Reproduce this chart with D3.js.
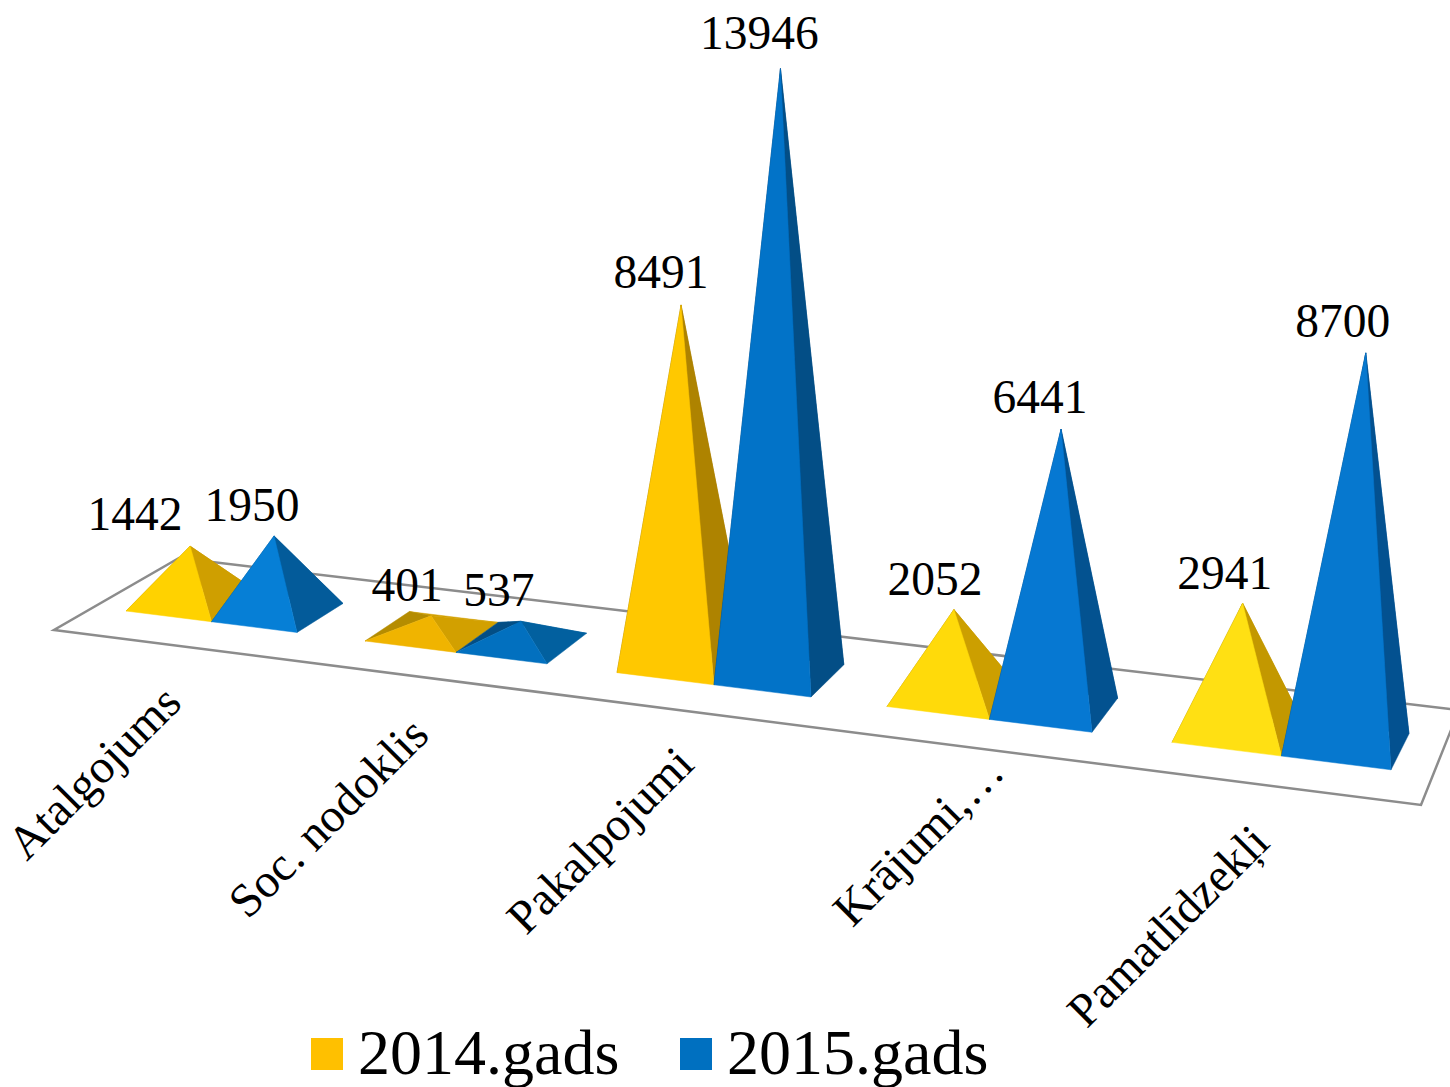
<!DOCTYPE html>
<html>
	<head>
		<meta charset="utf-8">
		<style>
			html, body { margin: 0; padding: 0; background: #fff; overflow: hidden; }
			text { font-family: "Liberation Serif", serif; fill: #000; }
		</style>
	</head>
	<body>
		<script src="https://cdnjs.cloudflare.com/ajax/libs/d3/7.8.5/d3.min.js"></script>
		<script>
			var categories = ["Atalgojums", "Soc. nodoklis", "Pakalpojumi", "Krājumi,…", "Pamatlīdzekļi"];
			var seriesNames = ["2014.gads", "2015.gads"];
			var values2014 = [1442, 401, 8491, 2052, 2941];
			var values2015 = [1950, 537, 13946, 6441, 8700];

			// each face is lit a little differently depending on where it stands
			var frontFill2014 = ["#ffd200", "#f0b400", "#ffc800", "#ffda0a", "#ffe013"];
			var sideFill2014 = ["#cf9f00", "#d2a000", "#ae8300", "#cc9f00", "#c39800"];
			var backFill2014 = ["#b58c00", "#b58c00", "#8f6c00", "#a88400", "#a07e00"];
			var frontFill2015 = ["#067fd6", "#0270bf", "#0273c8", "#0678d2", "#0678cf"];
			var sideFill2015 = ["#035b9a", "#02609f", "#034e86", "#035290", "#035190"];
			var backFill2015 = ["#034e85", "#034e85", "#023f6c", "#034578", "#034578"];
			var legendFill = ["#ffc000", "#0070c0"];

			var labelDx2014 = [-55, -24, -20, -19, -18];
			var labelDx2015 = [-22, -22, -21, -21, -23];
			var labelDy2014 = [-16, -15, -17, -15, -14];
			var labelDy2015 = [-15, -15, -20, -16, -16];
			var categoryDx = [-28, -25, -18, 17, -10];
			var categoryDy = [87, 88, 84, 53, 90];

			var width = 1450,
				height = 1087;

			var idx = d3.range(categories.length);

			// front edge of the floor, a pyramid base sits on it
			var catLeft = d3.scaleLinear().domain(idx).range([126, 365, 617, 887, 1172]);
			var barWidth = d3.scaleLinear().domain(idx).range([85.5, 91, 97, 102.5, 109.5]);
			var baseY = d3.scaleLinear().domain([126, 1391]).range([611, 769.8]);
			var depthX = d3.scaleLinear().domain([297, 1391]).range([46, 18]);
			var depthY = d3.scaleLinear().domain([297, 1391]).range([-29, -36]);

			// px per unit, grows to the right and with the height (perspective)
			var gainByX = d3.scaleLinear().domain([0, 1000]).range([0.0378, 0.04214]);
			var gainByValue = d3.scaleLinear().domain([0, 10000]).range([0, 0.00164]);
			// verticals lean away from the centre of the picture
			var lean = d3.scaleLinear().domain([750, 1750]).range([0, 0.088]);

			var svg = d3.select("body").append("svg")
				.attr("width", width)
				.attr("height", height);

			var poly = d3.line().x(function(d) { return d[0]; }).y(function(d) { return d[1]; });

			var floorCorners = [[54, 630], [1421, 805], [1459, 710], [179, 558]];
			svg.append("path")
				.attr("d", poly(floorCorners) + "Z")
				.attr("fill", "none")
				.attr("stroke", "#8c8c8c")
				.attr("stroke-width", 2.5);

			function point(x) {
				return [x, baseY(x)];
			}

			function behind(p) {
				return [p[0] + depthX(p[0]), p[1] + depthY(p[0])];
			}

			function addPyramid(i, j, value, front, side, back, labelDx, labelDy) {
				var fl = point(catLeft(i) + j * barWidth(i));
				var fr = point(catLeft(i) + (j + 1) * barWidth(i));
				var br = behind(fr);
				var bl = behind(fl);
				var cx = (fl[0] + br[0]) / 2,
					cy = (fl[1] + br[1]) / 2;
				var h = value * (gainByX(cx) + gainByValue(value));
				var apex = [cx + lean(cx) * h, cy - h];

				var g = svg.append("g");
				var faces = [
					{ pts: [bl, br, apex], fill: side },
					{ pts: [fl, bl, apex], fill: back },
					{ pts: [fr, br, apex], fill: side },
					{ pts: [fl, fr, apex], fill: front }
				];
				g.selectAll("path")
					.data(faces)
					.enter().append("path")
					.attr("d", function(d) { return poly(d.pts) + "Z"; })
					.attr("fill", function(d) { return d.fill; })
					.attr("stroke", function(d) { return d.fill; })
					.attr("stroke-width", 0.5);

				return { x: apex[0] + labelDx, y: apex[1] + labelDy, text: value };
			}

			var dataLabels = [];
			idx.forEach(function(i) {
				dataLabels.push(addPyramid(i, 0, values2014[i], frontFill2014[i], sideFill2014[i], backFill2014[i], labelDx2014[i], labelDy2014[i]));
				dataLabels.push(addPyramid(i, 1, values2015[i], frontFill2015[i], sideFill2015[i], backFill2015[i], labelDx2015[i], labelDy2015[i]));
			});

			svg.selectAll(".value")
				.data(dataLabels)
				.enter().append("text")
				.attr("class", "value")
				.attr("x", function(d) { return d.x; })
				.attr("y", function(d) { return d.y; })
				.attr("text-anchor", "middle")
				.attr("font-size", 47.5)
				.text(function(d) { return d.text; });

			svg.selectAll(".category")
				.data(categories)
				.enter().append("text")
				.attr("class", "category")
				.attr("text-anchor", "end")
				.attr("font-size", 47.5)
				.attr("transform", function(d, i) {
					var x = catLeft(i) + barWidth(i) + categoryDx[i];
					return "translate(" + x + "," + (baseY(x) + categoryDy[i]) + ") rotate(-45)";
				})
				.text(function(d) { return d; });

			var legendX = d3.scaleOrdinal().domain(seriesNames).range([311, 680]);

			var legend = svg.selectAll(".legend")
				.data(seriesNames)
				.enter().append("g")
				.attr("class", "legend")
				.attr("transform", function(d) { return "translate(" + legendX(d) + ",1038)"; });

			legend.append("rect")
				.attr("width", 32)
				.attr("height", 32)
				.attr("fill", function(d, i) { return legendFill[i]; });

			legend.append("text")
				.attr("x", 47)
				.attr("y", 36)
				.attr("font-size", 64)
				.text(function(d) { return d; });
		</script>
	</body>
</html>
